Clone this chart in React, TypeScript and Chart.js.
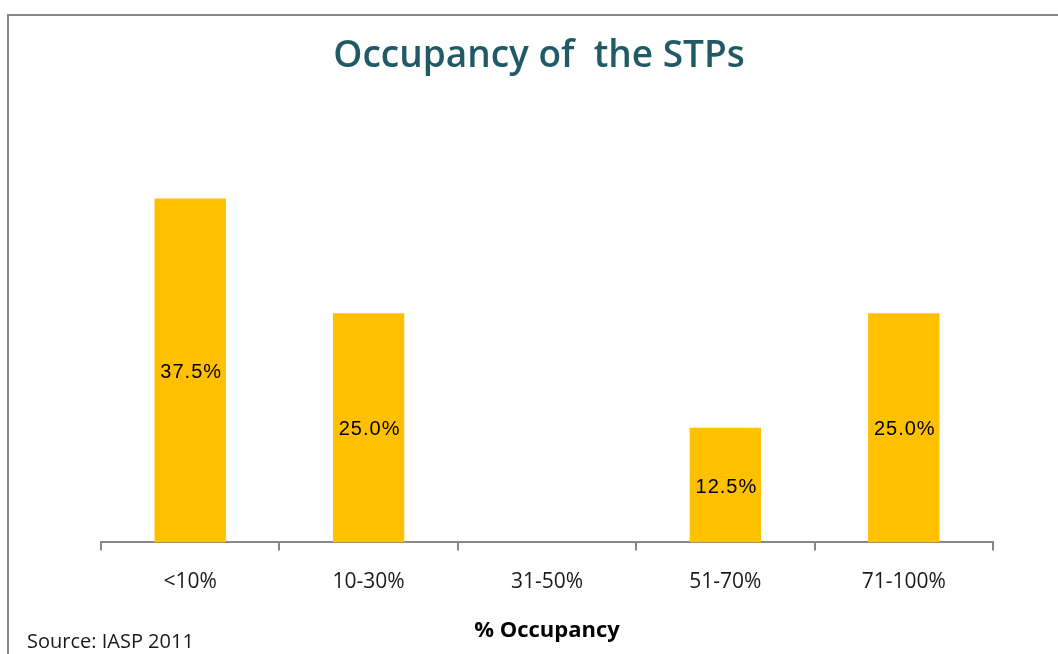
import React, { useEffect, useRef } from "react";
import { Chart, registerables } from "chart.js";

Chart.register(...registerables);

const categories = ["<10%", "10-30%", "31-50%", "51-70%", "71-100%"];
const shares = [37.5, 25.0, 0, 12.5, 25.0];
const titleText = "Occupancy of  the STPs";
const axisTitle = "% Occupancy";
const sourceText = "Source: IASP 2011";

const frameAndLabels = {
  id: "frameAndLabels",
  afterDraw(chart: any) {
    const ctx = chart.ctx;
    ctx.save();
    // frame
    ctx.strokeStyle = "#888888";
    ctx.lineWidth = 2;
    ctx.strokeRect(8, 15, 1200, 800);
    // title
    ctx.fillStyle = "#215A66";
    ctx.font = "600 37px 'Open Sans'";
    ctx.textAlign = "center";
    ctx.textBaseline = "middle";
    ctx.fillText(titleText, 539, 56);
    // data labels
    const meta = chart.getDatasetMeta(0);
    ctx.fillStyle = "#000000";
    ctx.font = "20px 'Liberation Sans'";
    (ctx as any).letterSpacing = "1px";
    meta.data.forEach((bar: any, i: number) => {
      const v = shares[i];
      if (!v) return;
      const cy = (bar.y + bar.base) / 2 + 2;
      ctx.fillText(v.toFixed(1) + "%", bar.x + 1, cy);
    });
    (ctx as any).letterSpacing = "0px";
    // source
    ctx.font = "20px 'Open Sans'";
    ctx.textAlign = "left";
    ctx.fillStyle = "#1a1a1a";
    ctx.fillText(sourceText, 27, 642);
    ctx.restore();
  },
};

export default function App() {
  const ref = useRef<HTMLCanvasElement | null>(null);
  useEffect(() => {
    if (!ref.current) return;
    const chart = new Chart(ref.current, {
      type: "bar",
      data: {
        labels: categories,
        datasets: [
          {
            data: shares,
            backgroundColor: "#FFC000",
            borderWidth: 0,
            categoryPercentage: 1,
            barPercentage: 0.4,
          },
        ],
      },
      options: {
        animation: false,
        responsive: false,
        layout: { padding: { left: 101, right: 65, top: 84, bottom: 10 } },
        plugins: {
          legend: { display: false },
          tooltip: { enabled: false },
          title: { display: false },
        },
        scales: {
          y: { display: false, min: 0, max: 50 },
          x: {
            border: { display: true, color: "#888888", width: 2 },
            grid: {
              display: true,
              offset: true,
              drawOnChartArea: false,
              drawTicks: true,
              tickLength: 8,
              color: "#888888",
              lineWidth: 2,
            },
            ticks: {
              color: "#1a1a1a",
              font: { family: "'Open Sans'", size: 21 },
              padding: 19,
            },
            title: {
              display: true,
              text: axisTitle,
              color: "#000000",
              font: { family: "'Open Sans'", size: 22, weight: "bold" as any },
              padding: { top: 4, bottom: 0 },
            },
          },
        },
      },
      plugins: [frameAndLabels],
    });
    return () => chart.destroy();
  }, []);
  return (
    <div style={{ position: "fixed", left: 0, top: 0, width: 1058, height: 654, background: "#fff" }}>
      <canvas ref={ref} width={1058} height={654} style={{ display: "block" }} />
    </div>
  );
}
